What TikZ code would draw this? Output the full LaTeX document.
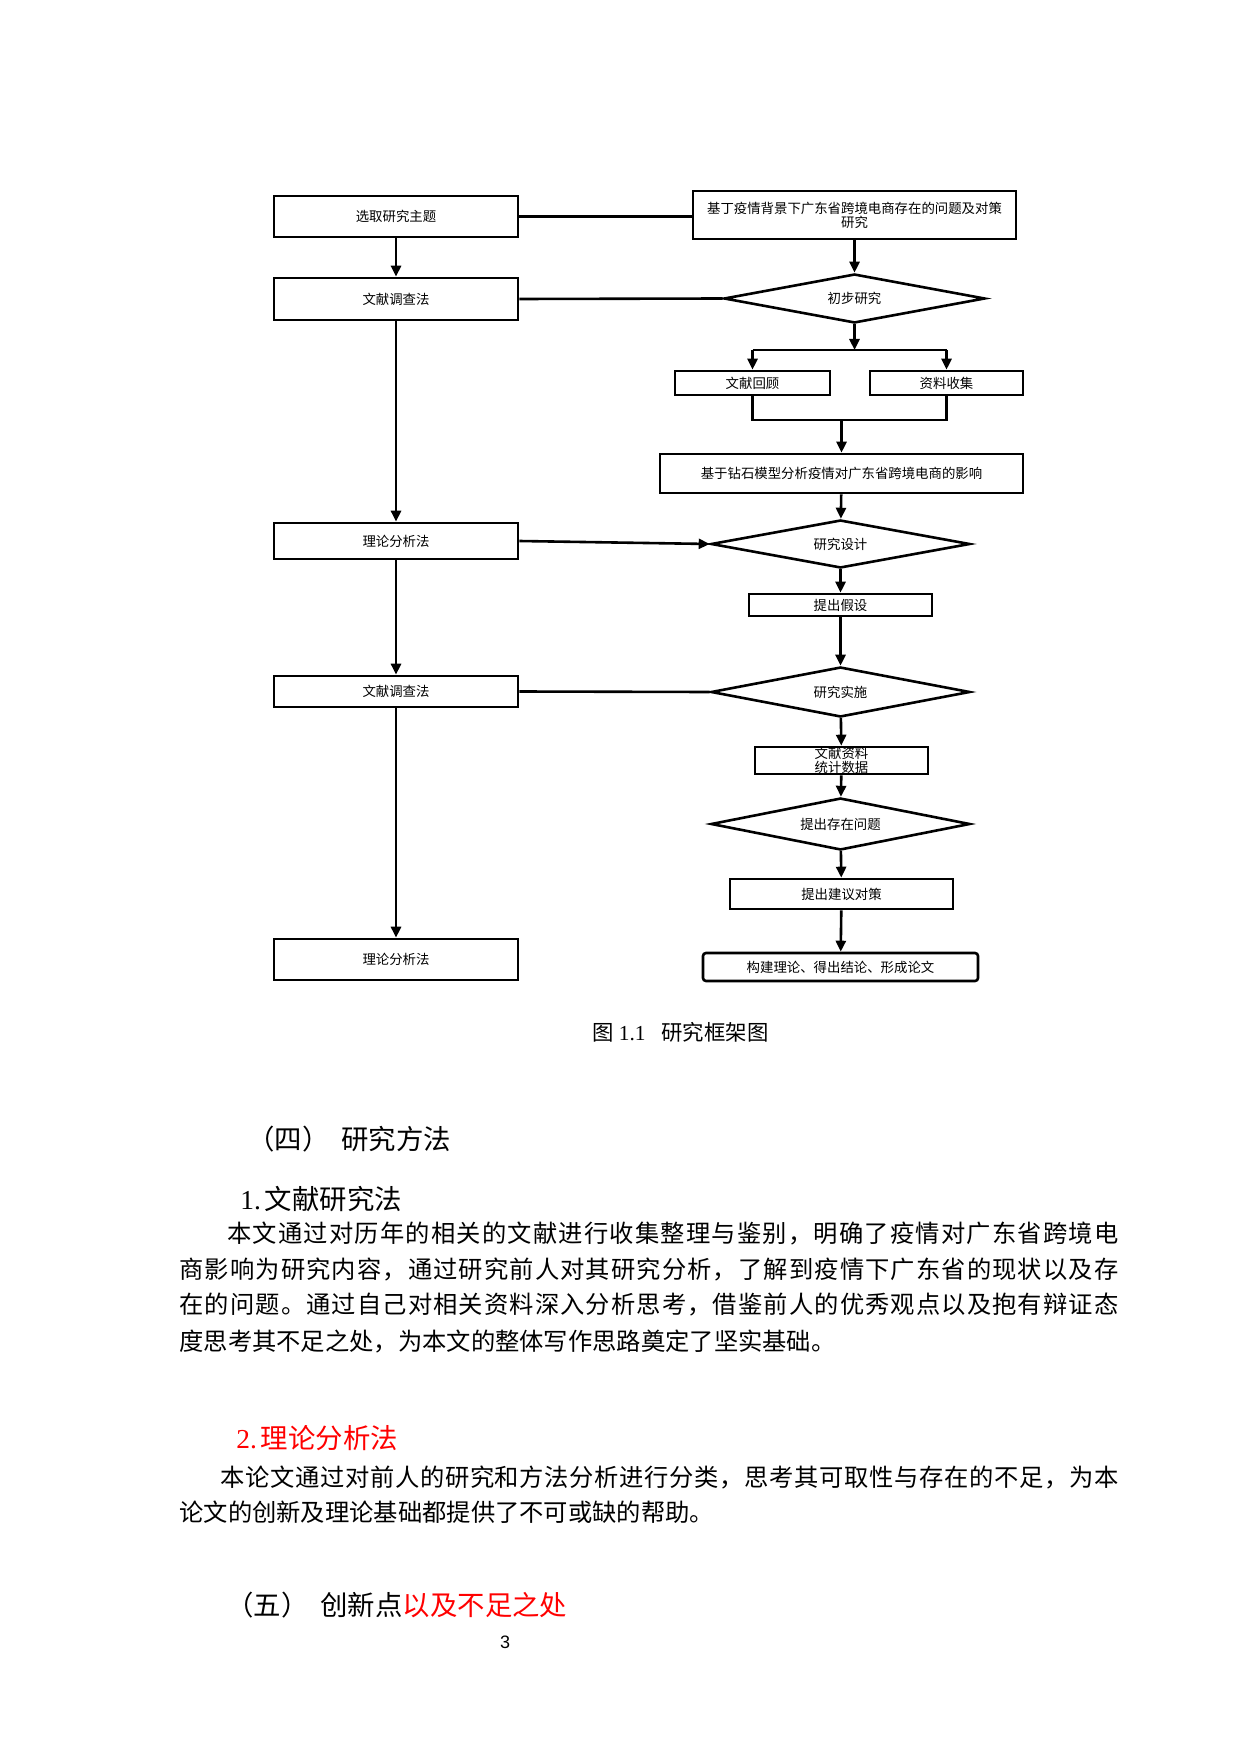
\documentclass[tikz,border=0pt]{standalone}
\usepackage{fontspec}
\setmainfont{Noto Sans CJK SC}
\newfontfamily\latinSerif{Liberation Serif}
\newfontfamily\pageFont{Liberation Sans}
\usetikzlibrary{shapes.geometric,arrows.meta}
\definecolor{headRed}{RGB}{255,0,0}
%% One justified line of body text: the characters are spread over the given width.
\def\spreadLoop#1{\ifx#1\relax\else\hskip 0pt plus 1fil#1\expandafter\spreadLoop\fi}
\def\spreadFirst#1{#1\spreadLoop}
\newcommand{\bodyLine}[2]{\hbox to #1{\spreadFirst#2\relax}}

\begin{document}
\begin{tikzpicture}[x=0.5pt,y=-0.5pt,%%
  boxStyle/.style 2 args={draw,line width=1.3pt,inner sep=0pt,minimum width=#1*0.5pt,minimum height=#2*0.5pt,font=\fontsize{6.7pt}{7pt}\selectfont,align=center},%%
  decisionStyle/.style 2 args={draw,diamond,shape aspect=5.3,line width=1.3pt,inner sep=0pt,minimum width=#1*0.5pt,minimum height=#2*0.5pt,font=\fontsize{6.7pt}{7pt}\selectfont},%%
  arrowStyle/.style={-{Triangle[length=5.5pt,width=5pt]},line width=1.3pt},%%
  lineStyle/.style={-,line width=1.3pt},%%
  bodyStyle/.style={anchor=west,inner sep=0pt,font=\fontsize{12.15pt}{12.15pt}\selectfont},%%
  headStyle/.style={anchor=west,inner sep=0pt,font=\fontsize{13.7pt}{13.7pt}\selectfont}%%
]
%%
%%
\useasboundingbox (0,0) rectangle (1240,1754);
%%
%% Left column: methods.
\node[boxStyle={244}{41}] (topic) at (396,216.5) {选取研究主题};
\node[boxStyle={244}{42}] (litA) at (396,299) {文献调查法};
\node[boxStyle={244}{36}] (theoA) at (396,541) {理论分析法};
\node[boxStyle={244}{31}] (litB) at (396,691.5) {文献调查法};
\node[boxStyle={244}{41}] (theoB) at (396,959.5) {理论分析法};
%%
%% Right column: research steps.
\node[boxStyle={323}{48}] (title) at (854.5,215) {基丁疫情背景下广东省跨境电商存在的问题及对策\\研究};
\node[decisionStyle={261}{49}] (prelim) at (854.5,298.5) {初步研究};
\node[boxStyle={155}{24}] (review) at (752.5,383) {文献回顾};
\node[boxStyle={153}{24}] (collect) at (946.5,383) {资料收集};
\node[boxStyle={363}{39}] (model) at (841.5,473.5) {基于钻石模型分析疫情对广东省跨境电商的影响};
\node[decisionStyle={259}{48}] (design) at (840.5,544) {研究设计};
\node[boxStyle={183}{22}] (hypo) at (840.5,605) {提出假设};
\node[decisionStyle={259}{50}] (implement) at (840.5,692) {研究实施};
\node[boxStyle={173}{27}] (data) at (841.5,760.5) {文献资料\\统计数据};
\node[decisionStyle={259}{52}] (problem) at (840.5,824) {提出存在问题};
\node[boxStyle={223}{30}] (advice) at (841.5,894) {提出建议对策};
\node[boxStyle={275}{28},rounded corners=1.5pt] (final) at (840.5,967) {构建理论、得出结论、形成论文};
%%
\coordinate (splitTop) at (854.5,350);
\coordinate (joinMid) at (841.5,420);
%%
%% Connectors of the left column.
\draw[arrowStyle] (topic) -- (litA);
\draw[arrowStyle] (litA) -- (theoA);
\draw[arrowStyle] (theoA) -- (litB);
\draw[arrowStyle] (litB) -- (theoB);
%% Links between the columns.
\draw[lineStyle] (topic.east) -- (topic.east -| title.west);
\draw[lineStyle] (litA.east) -- (prelim.west);
\draw[arrowStyle] (theoA.east) -- (design.west);
\draw[lineStyle] (litB.east) -- (implement.west);
%% Connectors of the right column.
\draw[arrowStyle] (title) -- (prelim);
\draw[arrowStyle] (prelim.south) -- (splitTop);
\draw[lineStyle] (review.north |- splitTop) -- (collect.north |- splitTop);
\draw[arrowStyle] (review.north |- splitTop) -- (review.north);
\draw[arrowStyle] (collect.north |- splitTop) -- (collect.north);
\draw[lineStyle] (review.south) -- (review.south |- joinMid) -- (collect.south |- joinMid) -- (collect.south);
\draw[arrowStyle] (joinMid) -- (model.north);
\draw[arrowStyle] (model) -- (design);
\draw[arrowStyle] (design) -- (hypo);
\draw[arrowStyle] (hypo) -- (implement);
\draw[arrowStyle] (implement) -- (data);
\draw[arrowStyle] (data) -- (problem);
\draw[arrowStyle] (problem) -- (advice);
\draw[arrowStyle] (advice) -- (final);
%%
%% Caption of the figure.
\node[anchor=west,inner sep=0pt,font=\fontsize{10.7pt}{10.7pt}\selectfont] (figCaption) at (592,1032) {图\hspace{2.5pt}{\latinSerif 1.1}\hspace{8pt}研究框架图};
%%
%% Text of the page below the figure.
\node[headStyle] (headFour) at (247,1139) {（四）\hspace{6pt}研究方法};
\node[headStyle] (headLit) at (240,1199) {{\latinSerif 1.}\hspace{2pt}文献研究法};
\node[bodyStyle] (paraOneA) at (227,1233) {\bodyLine{445.5pt}{本文通过对历年的相关的文献进行收集整理与鉴别，明确了疫情对广东省跨境电}};
\node[bodyStyle] (paraOneB) at (179,1269) {\bodyLine{469.5pt}{商影响为研究内容，通过研究前人对其研究分析，了解到疫情下广东省的现状以及存}};
\node[bodyStyle] (paraOneC) at (179,1305) {\bodyLine{469.5pt}{在的问题。通过自己对相关资料深入分析思考，借鉴前人的优秀观点以及抱有辩证态}};
\node[bodyStyle] (paraOneD) at (179,1341) {度思考其不足之处，为本文的整体写作思路奠定了坚实基础。};
\node[headStyle,text=headRed] (headTheo) at (236,1438) {{\latinSerif 2.}\hspace{2pt}理论分析法};
\node[bodyStyle] (paraTwoA) at (220,1477) {\bodyLine{449pt}{本论文通过对前人的研究和方法分析进行分类，思考其可取性与存在的不足，为本}};
\node[bodyStyle] (paraTwoB) at (179,1512) {论文的创新及理论基础都提供了不可或缺的帮助。};
\node[headStyle] (headFive) at (226,1605) {（五）\hspace{6pt}创新点\textcolor{headRed}{以及不足之处}};
%% Page number.
\node[font=\pageFont\fontsize{9pt}{9pt}\selectfont] (pageNum) at (505,1642) {3};
\end{tikzpicture}
\end{document}
